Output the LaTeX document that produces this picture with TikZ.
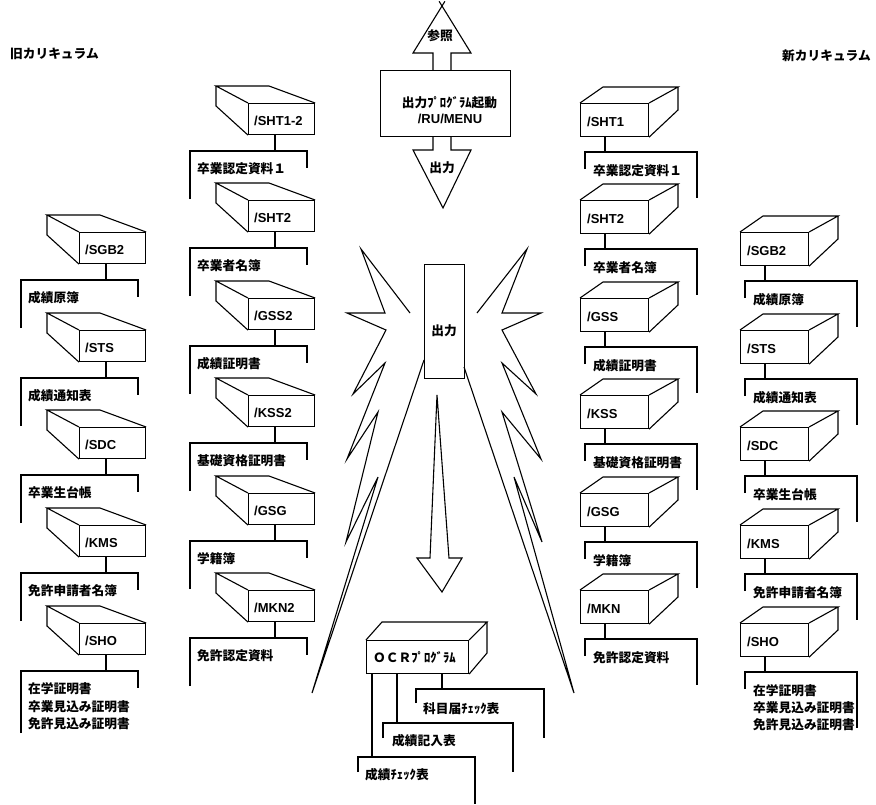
\documentclass[tikz,border=0pt]{standalone}
\usepackage{fontspec}
\newfontfamily\jfam{Noto Sans CJK JP}
\newfontfamily\lfam{Liberation Sans}
\newcommand{\JF}{\jfam\bfseries\fontsize{12.7}{17}\selectfont}
\newcommand{\LF}{\lfam\bfseries\fontsize{13}{15}\selectfont}
\tikzset{
  ln/.style={line width=1.1pt, line join=miter},
  face/.style={draw, line width=1.1pt, rectangle, inner sep=0pt},
  boxtxt/.style={font=\LF, anchor=base west, inner sep=0pt},
  jtxt/.style={font=\JF, anchor=base west, inner sep=0pt},
  ctxt/.style={font=\JF, anchor=base, inner sep=0pt},
}
% old-curriculum unit: box opening to the upper left
\newcommand{\OldUnit}[6]{%
  \node[face, minimum width=66pt, minimum height=31pt, anchor=north west] (#1) at (#2,#3) {};
  \draw[ln] (#1.north west) -- (#2-32,#3-17) -- (#2+21,#3-17) -- (#1.north east);
  \draw[ln] (#2-32,#3-17) -- (#2-32,#3+3) -- (#1.south west);
  \node[boxtxt] (#1-t) at (#2+6,#3+22) {#4};
  \coordinate (#1-s) at (#2+27,#3+31);
  \coordinate (#1-b) at (#2+27,#3+48);
  \node[jtxt] (#1-l) at (#2-51,#3+70) {#5};
  \draw[ln] (#1-s) -- (#1-b);
  \draw[ln] (#2-58,#3+#6) -- (#2-58,#3+48) -- (#2+59,#3+48) -- (#2+59,#3+65);
}
% new-curriculum unit: box opening to the upper right
\newcommand{\NewUnit}[6]{%
  \node[face, minimum width=68pt, minimum height=33pt, anchor=north west] (#1) at (#2,#3) {};
  \draw[ln] (#1.north west) -- (#2+23,#3-16) -- (#2+98,#3-16) -- (#1.north east);
  \draw[ln] (#2+98,#3-16) -- (#2+98,#3+7) -- (#1.south east);
  \node[boxtxt] (#1-t) at (#2+7,#3+23) {#4};
  \coordinate (#1-s) at (#2+25,#3+33);
  \coordinate (#1-b) at (#2+25,#3+49);
  \node[jtxt] (#1-l) at (#2+13,#3+72) {#5};
  \draw[ln] (#1-s) -- (#1-b);
  \draw[ln] (#2+5,#3+66) -- (#2+5,#3+49) -- (#2+117,#3+49) -- (#2+117,#3+#6);
}
\begin{document}
\begin{tikzpicture}[x=1pt,y=-1pt]
\fill[white] (0,0) rectangle (876,804);
\useasboundingbox (0,0) rectangle (876,804);

% headers
\node[jtxt] (hold) at (10,58) {旧カリキュラム};
\node[jtxt] (hnew) at (782,60) {新カリキュラム};

% top menu box with arrows
\node[face, minimum width=130pt, minimum height=66pt, anchor=north west] (menu) at (380,70) {};
\node[ctxt] (menu-t1) at (449.5,107) {出力ﾌﾟﾛｸﾞﾗﾑ起動};
\node[font=\LF, anchor=base, inner sep=0pt] (menu-t2) at (450,123) {/RU/MENU};
\draw[ln] (433,70) -- (433,53) -- (413,53) -- (444.9,1.3);
\draw[ln] (451,70) -- (451,53) -- (471,53) -- (439.1,1.3);
\node[ctxt] (ref) at (440,40) {参照};
\draw[ln] (433,136) -- (433,150) -- (413,150) -- (443,208) -- (471,150) -- (451,150) -- (451,136);
\node[ctxt] (out1) at (442,172) {出力};

% central output box and bolts
\node[face, minimum width=40pt, minimum height=114pt, anchor=north west] (outbox) at (424,264) {};
\node[ctxt] (out2) at (444,335) {出力};
\draw[ln] (410,313) -- (361,249) -- (385,313) -- (347,313) -- (386,330) -- (353,394) -- (385,363)
  -- (347,459) -- (378,412) -- (346,542) -- (378,477) -- (312,693) -- (424,360);
\draw[ln] (477,313) -- (527,249) -- (502,313) -- (541,313) -- (502,330) -- (536,394) -- (502,363)
  -- (541,459) -- (502,412) -- (542,542) -- (514,477) -- (574,693) -- (464,367);
\draw[ln] (437,395) -- (430,558) -- (417,558) -- (442,592) -- (462,558) -- (449,558) -- cycle;

% OCR program
\node[face, minimum width=102pt, minimum height=33pt, anchor=north west] (ocr) at (366,640) {};
\draw[ln] (ocr.north west) -- (382,622) -- (487,622) -- (ocr.north east);
\draw[ln] (487,622) -- (487,653) -- (ocr.south east);
\node[jtxt] (ocr-t) at (373,662) {ＯＣＲﾌﾟﾛｸﾞﾗﾑ};
\coordinate (ocr-s1) at (372,673);
\coordinate (ocr-s2) at (397,673);
\coordinate (ocr-s3) at (442,673);
\coordinate (ocr-b1) at (372,757);
\coordinate (ocr-b2) at (397,723);
\coordinate (ocr-b3) at (442,689);
\draw[ln] (ocr-s1) -- (ocr-b1);
\draw[ln] (ocr-s2) -- (ocr-b2);
\draw[ln] (ocr-s3) -- (ocr-b3);
\draw[ln] (416,703) -- (416,689) -- (544,689) -- (544,738);
\node[jtxt] (ocr-l3) at (423,713) {科目届ﾁｪｯｸ表};
\draw[ln] (383,738) -- (383,723) -- (513,723) -- (513,772);
\node[jtxt] (ocr-l2) at (392,745) {成績記入表};
\draw[ln] (358,772) -- (358,757) -- (475,757) -- (475,804);
\node[jtxt] (ocr-l1) at (365,779) {成績ﾁｪｯｸ表};

% old curriculum, outer column
\OldUnit{oa}{79}{232}{/SGB2}{成績原簿}{96}
\OldUnit{ob}{79}{330}{/STS}{成績通知表}{96}
\OldUnit{oc}{79}{427}{/SDC}{卒業生台帳}{96}
\OldUnit{od}{79}{525}{/KMS}{免許申請者名簿}{96}
\OldUnit{oe}{79}{623}{/SHO}{在学証明書}{110}
\node[jtxt] (oe-l2) at (28,711) {卒業見込み証明書};
\node[jtxt] (oe-l3) at (28,728) {免許見込み証明書};

% old curriculum, inner column
\OldUnit{ia}{248}{103}{/SHT1-2}{卒業認定資料１}{96}
\OldUnit{ib}{248}{200}{/SHT2}{卒業者名簿}{96}
\OldUnit{ic}{248}{298}{/GSS2}{成績証明書}{96}
\OldUnit{id}{248}{395}{/KSS2}{基礎資格証明書}{96}
\OldUnit{ie}{248}{493}{/GSG}{学籍簿}{96}
\OldUnit{if}{248}{590}{/MKN2}{免許認定資料}{96}

% new curriculum, inner column
\NewUnit{na}{580}{103}{/SHT1}{卒業認定資料１}{95}
\NewUnit{nb}{580}{200}{/SHT2}{卒業者名簿}{95}
\NewUnit{nc}{580}{298}{/GSS}{成績証明書}{95}
\NewUnit{nd}{580}{395}{/KSS}{基礎資格証明書}{95}
\NewUnit{ne}{580}{493}{/GSG}{学籍簿}{95}
\NewUnit{nf}{580}{590}{/MKN}{免許認定資料}{95}

% new curriculum, outer column
\NewUnit{ma}{740}{232}{/SGB2}{成績原簿}{95}
\NewUnit{mb}{740}{330}{/STS}{成績通知表}{95}
\NewUnit{mc}{740}{427}{/SDC}{卒業生台帳}{95}
\NewUnit{md}{740}{525}{/KMS}{免許申請者名簿}{95}
\NewUnit{me}{740}{623}{/SHO}{在学証明書}{105}
\node[jtxt] (me-l2) at (753,712) {卒業見込み証明書};
\node[jtxt] (me-l3) at (753,729) {免許見込み証明書};
\end{tikzpicture}
\end{document}
